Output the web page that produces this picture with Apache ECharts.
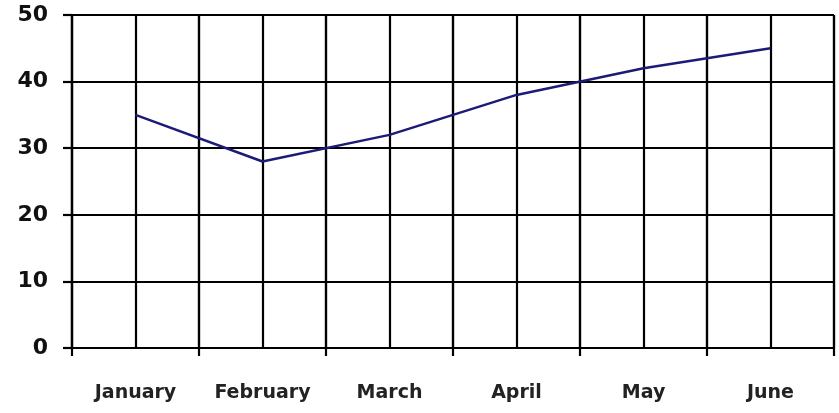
<!DOCTYPE html>
<html>
<head>
<meta charset="utf-8">
<script src="https://cdn.jsdelivr.net/npm/echarts@6/dist/echarts.min.js"></script>
<style>
  html, body { margin: 0; padding: 0; background: #fff; }
  #main { width: 839px; height: 413px; }
</style>
</head>
<body>
<div id="main"></div>
<script>
var myChart = echarts.init(document.getElementById('main'));

var months = ['January', 'February', 'March', 'April', 'May', 'June'];
var values = [35, 28, 32, 38, 42, 45];
var yTicks = [0, 10, 20, 30, 40, 50];

var gridLine = { color: '#000', width: 2.2 };

var option = {
    animation: false,
    grid: { left: 72, right: 5, top: 15, bottom: 65 },
    xAxis: [{
        type: 'category',
        data: months,
        boundaryGap: true,
        axisLine: { lineStyle: gridLine },
        axisTick: { show: true, interval: 0, length: 8, lineStyle: gridLine },
        axisLabel: {
            interval: 0,
            hideOverlap: false,
            margin: 36,
            color: '#222',
            fontFamily: 'DejaVu Sans',
            fontWeight: 'bold',
            fontSize: 19
        },
        splitLine: { show: true, interval: 0, lineStyle: gridLine }
    }, {
        // extra vertical lines through the middle of each month
        type: 'value',
        min: 0,
        max: months.length * 2,
        interval: 1,
        position: 'bottom',
        axisLine: { show: false },
        axisTick: { show: false },
        axisLabel: { show: false },
        splitLine: { show: true, lineStyle: gridLine }
    }],
    yAxis: {
        type: 'value',
        min: yTicks[0],
        max: yTicks[yTicks.length - 1],
        interval: 10,
        axisLine: { show: true, lineStyle: gridLine },
        axisTick: { show: true, length: 9, lineStyle: gridLine },
        axisLabel: {
            margin: 24,
            color: '#111',
            fontFamily: 'DejaVu Sans',
            fontWeight: 'bold',
            fontSize: 22
        },
        splitLine: { show: true, lineStyle: gridLine }
    },
    series: [{
        type: 'line',
        data: values,
        xAxisIndex: 0,
        showSymbol: false,
        symbol: 'none',
        lineStyle: { color: '#1c1c78', width: 2.5 },
        z: 5
    }]
};

myChart.setOption(option);
</script>
</body>
</html>
